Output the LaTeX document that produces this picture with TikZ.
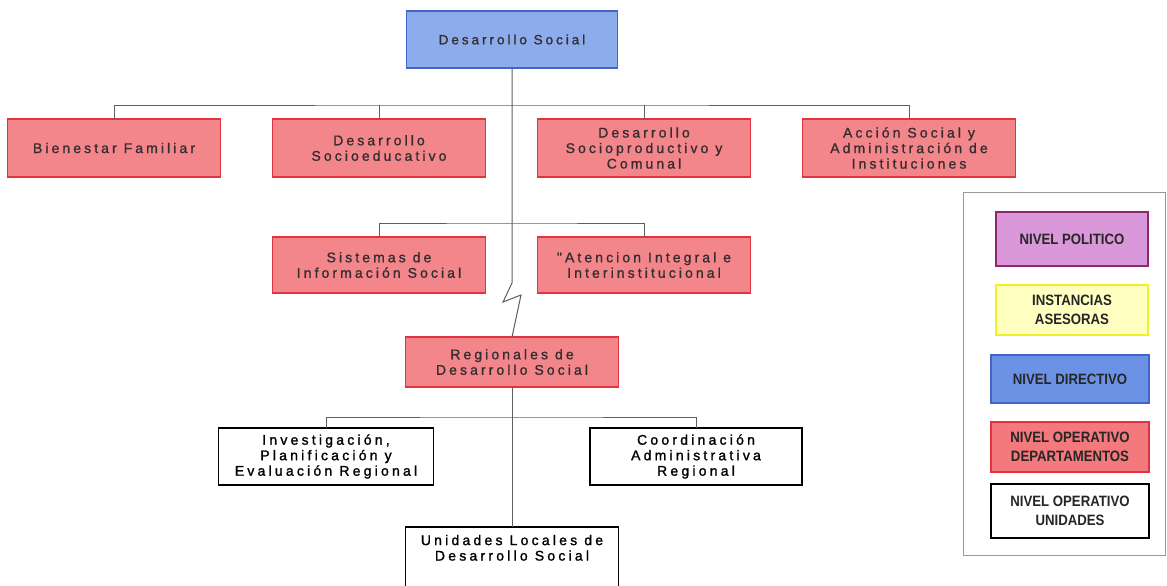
\documentclass[tikz,border=0pt]{standalone}
\usepackage{fontspec}
\setmainfont{Liberation Sans}
\newfontfamily\boxfont[LetterSpace=22,FakeBold=1.2]{Liberation Sans}
\newfontfamily\unitfont[LetterSpace=23,FakeBold=1.4]{Liberation Sans}
\newfontfamily\legfont[FakeStretch=0.88]{Liberation Sans}
\usetikzlibrary{positioning}

\definecolor{deptfill}{RGB}{242,134,138}
\definecolor{deptline}{RGB}{226,52,64}
\definecolor{dirfill}{RGB}{140,172,236}
\definecolor{dirline}{RGB}{70,100,200}
\definecolor{legblue}{RGB}{108,146,230}
\definecolor{polfill}{RGB}{218,152,218}
\definecolor{polline}{RGB}{140,40,110}
\definecolor{yelfill}{RGB}{255,255,192}
\definecolor{yelline}{RGB}{240,240,40}
\definecolor{txtgray}{RGB}{55,45,48}
\definecolor{linkgray}{RGB}{95,95,95}

\begin{document}
\begin{tikzpicture}[x=1pt, y=-1pt,
  dirbox/.style={draw=dirline, fill=dirfill, line width=1.6pt, outer sep=0pt,
    minimum width=211pt, minimum height=57pt, align=center, text=txtgray,
    font=\boxfont\fontsize{13.5}{15}\selectfont},
  dept/.style={draw=deptline, fill=deptfill, line width=1.6pt, outer sep=0pt,
    minimum width=213pt, minimum height=58pt, align=center, text=txtgray,
    font=\boxfont\fontsize{14}{15.5}\selectfont},
  unit/.style={draw=black, fill=white, line width=1.8pt, outer sep=0pt,
    minimum width=213pt, minimum height=57pt, align=center, text=black,
    font=\unitfont\fontsize{14}{15.5}\selectfont},
  legbox/.style={line width=1.8pt, outer sep=0pt, minimum width=158pt,
    minimum height=50pt, align=center, text=black!85,
    font=\legfont\bfseries\fontsize{15}{19}\selectfont},
  legframe/.style={draw=black!40, line width=0.8pt, outer sep=0pt,
    minimum width=202pt, minimum height=363pt},
  link/.style={draw=linkgray, line width=1pt}
]
\useasboundingbox (0,0) rectangle (1167,586);

\node[dirbox] (dir) at (512,39.5) {Desarrollo Social};

% departamentos
\node[dept, below=51pt of dir, xshift=-398pt] (bien) {Bienestar Familiar};
\node[dept, right=52pt of bien] (soced) {Desarrollo\\Socioeducativo};
\node[dept, right=52pt of soced] (socpro) {Desarrollo\\Socioproductivo y\\Comunal};
\node[dept, right=52pt of socpro] (accion) {Acción Social y\\Administración de\\Instituciones};

\node[dept, minimum height=56pt, below=60pt of soced] (sis) {Sistemas de\\Información Social};
\node[dept, minimum height=56pt, below=60pt of socpro] (aten) {"Atencion Integral e\\Interinstitucional};

\node[dept, minimum height=50pt, below=269pt of dir] (reg) {Regionales de\\Desarrollo Social};

% unidades
\node[unit, minimum width=215pt, below=41pt of reg, xshift=-186pt] (inv) {Investigación,\\Planificación y\\Evaluación Regional};
\node[unit, minimum width=212pt, below=41pt of reg, xshift=184pt] (coord) {Coordinación\\Administrativa\\Regional};
\node[unit, minimum height=65pt, below=140pt of reg] (uni) {Unidades Locales de\\Desarrollo Social\\[8pt]};

% connectors
\coordinate (bus1) at (512,105);
\coordinate (bus2) at (512,223);
\coordinate (zz1) at (512,283);
\coordinate (zz2) at (503,302);
\coordinate (zz3) at (521,295);
\coordinate (bus3) at (512,417);

\draw[link] (dir.south) -- (bus1) -- (bus2) -- (zz1) -- (zz2) -- (zz3) -- (reg.north);
\draw[link] (bien.north) |- (bus1) -| (accion.north);
\draw[link] (soced.north) -- (soced.north |- bus1);
\draw[link] (socpro.north) -- (socpro.north |- bus1);
\draw[link] (sis.north) |- (bus2) -| (aten.north);
\draw[link] (reg.south) -- (uni.north);
\draw[link] (inv.north) |- (bus3) -| (coord.north);

% leyenda
\node[legframe] (leyenda) at (1064,373.5) {};
\node[legbox, draw=polline, fill=polfill, minimum width=152pt, minimum height=54pt,
  below=20pt of leyenda.north, xshift=8pt] (politico) {NIVEL POLITICO};
\node[legbox, draw=yelline, fill=yelfill, minimum width=152pt,
  below=19pt of politico] (asesoras) {INSTANCIAS\\ASESORAS};
\node[legbox, draw=dirline, fill=legblue, minimum height=48pt,
  below=20pt of asesoras, xshift=-2pt] (directivo) {NIVEL DIRECTIVO};
\node[legbox, draw=deptline, fill=deptfill!90!red,
  below=19pt of directivo] (departamentos) {NIVEL OPERATIVO\\DEPARTAMENTOS};
\node[legbox, draw=black, fill=white, line width=2.2pt, minimum height=54pt,
  below=12pt of departamentos] (unidades) {NIVEL OPERATIVO\\UNIDADES};

\end{tikzpicture}
\end{document}
